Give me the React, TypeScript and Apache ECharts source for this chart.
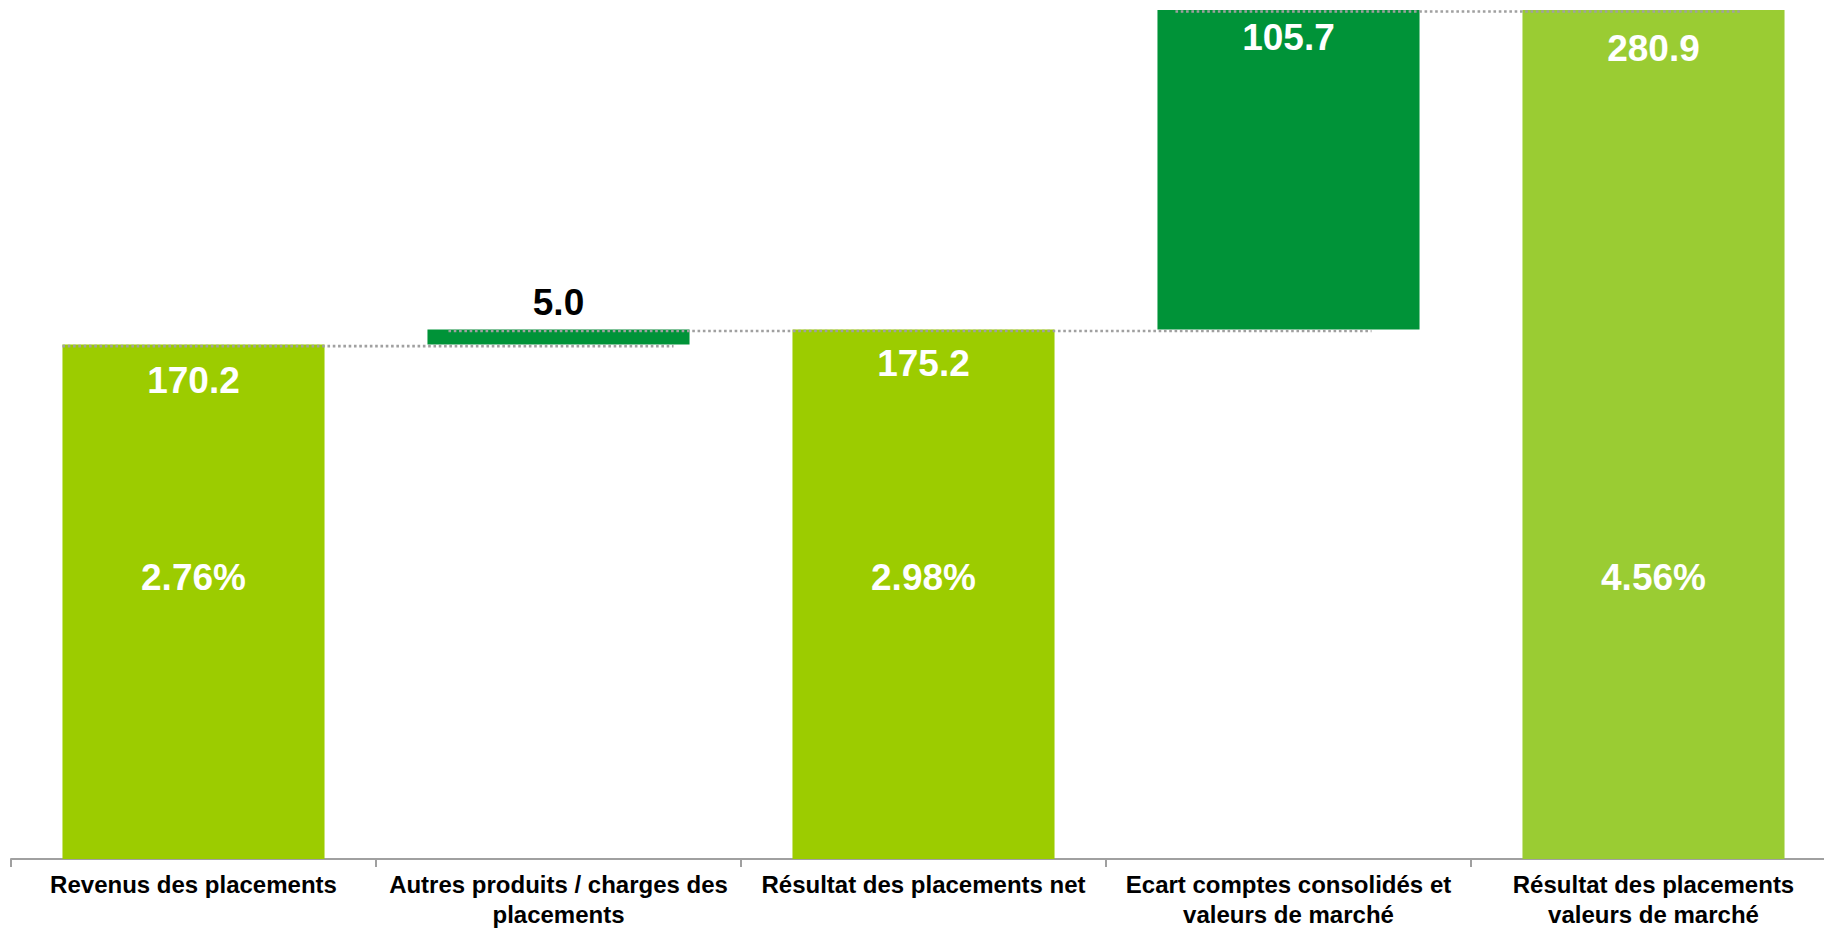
import React, { useEffect, useRef } from "react";
import * as echarts from "echarts";

// ---- Data ----
const CATEGORIES = [
  "Revenus des placements",
  "Autres produits / charges des\nplacements",
  "Résultat des placements net",
  "Ecart comptes consolidés et\nvaleurs de marché",
  "Résultat des placements\nvaleurs de marché",
];
const BASE_VALUES = [0, 170.2, 0, 175.2, 0];
const BAR_VALUES = [170.2, 5.0, 175.2, 105.7, 280.9];
const PERCENT_LABELS = ["2.76%", null, "2.98%", null, "4.56%"];
// connectors: [fromIndex, toIndex, level]
const CONNECTORS = [
  [0, 1, 170.2],
  [1, 3, 175.2],
  [3, 4, 280.9],
];

// ---- Style ----
const LIGHT = "#9ccc00";
const DARK = "#009338";
const LIGHT2 = "#9acc33";
const BAR_COLORS = [LIGHT, DARK, LIGHT, DARK, LIGHT2];
const LABEL_POS = ["insideTop", "top", "insideTop", "insideTop", "insideTop"];
const LABEL_COLOR = ["#ffffff", "#000000", "#ffffff", "#ffffff", "#ffffff"];
const LABEL_DIST = [17, 8, 16, 9, 20];
const CONNECTOR_INSETS = [
  [0, 16],
  [21, 48],
  [18, 44],
];
const PCT_LEVEL = 93;
const BAR_FRACTION = 0.718;
const FONT = "'Liberation Sans', Arial, sans-serif";

export default function App() {
  const ref = useRef<HTMLDivElement>(null);

  useEffect(() => {
    if (!ref.current) return;
    const chart = echarts.init(ref.current, undefined, { renderer: "svg" });

    const pctData: any[] = [];
    PERCENT_LABELS.forEach((p, i) => {
      if (p) pctData.push({ value: [i, PCT_LEVEL], name: p });
    });

    const option: any = {
      animation: false,
      backgroundColor: "#ffffff",
      grid: { left: 11, right: 0, top: 10, bottom: 69, containLabel: false },
      xAxis: {
        type: "category",
        data: CATEGORIES,
        axisLine: { show: true, lineStyle: { color: "#a0a0a0", width: 2 } },
        axisTick: {
          show: true,
          alignWithLabel: false,
          length: 8,
          lineStyle: { color: "#a0a0a0", width: 2 },
        },
        axisLabel: {
          interval: 0,
          color: "#000000",
          fontFamily: FONT,
          fontWeight: "bold",
          fontSize: 24,
          lineHeight: 30,
          margin: 10,
        },
        splitLine: { show: false },
      },
      yAxis: {
        type: "value",
        min: 0,
        max: 280.9,
        show: false,
        splitLine: { show: false },
      },
      series: [
        {
          type: "bar",
          stack: "total",
          barCategoryGap: "28.2%",
          itemStyle: { color: "transparent" },
          emphasis: { disabled: true },
          silent: true,
          data: BASE_VALUES,
        },
        {
          type: "bar",
          stack: "total",
          barCategoryGap: "28.2%",
          silent: true,
          data: BAR_VALUES.map((v, i) => ({
            value: v,
            itemStyle: { color: BAR_COLORS[i] },
            label: {
              show: true,
              position: LABEL_POS[i],
              distance: LABEL_DIST[i],
              color: LABEL_COLOR[i],
              fontFamily: FONT,
              fontWeight: "bold",
              fontSize: 37,
              formatter: () => v.toFixed(1),
            },
          })),
        },
        {
          type: "scatter",
          symbolSize: 1,
          itemStyle: { color: "transparent", opacity: 1 },
          silent: true,
          z: 5,
          data: pctData,
          label: {
            show: true,
            position: "inside",
            color: "#ffffff",
            opacity: 1,
            fontFamily: FONT,
            fontWeight: "bold",
            fontSize: 37,
            formatter: (p: any) => p.name,
          },
        },
        {
          type: "custom",
          silent: true,
          z: 10,
          encode: { x: 0, y: 2 },
          data: CONNECTORS,
          renderItem: (params: any, api: any) => {
            const from = api.value(0);
            const to = api.value(1);
            const lvl = api.value(2);
            const p1 = api.coord([from, lvl]);
            const p2 = api.coord([to, lvl]);
            const bw = api.size([1, 0])[0] * BAR_FRACTION;
            const ins = CONNECTOR_INSETS[params.dataIndex] || [0, 0];
            const y = p1[1] + 1.5;
            return {
              type: "line",
              shape: {
                x1: p1[0] - bw / 2 + ins[0],
                y1: y,
                x2: p2[0] + bw / 2 - ins[1],
                y2: y,
              },
              style: {
                stroke: "#a0a0a0",
                lineWidth: 2.6,
                lineDash: [2.6, 2.7],
              },
            };
          },
        },
      ],
    };

    chart.setOption(option);
    return () => chart.dispose();
  }, []);

  return (
    <div
      style={{
        position: "absolute",
        left: 0,
        top: 0,
        width: 1824,
        height: 929,
        overflow: "hidden",
      }}
    >
      <div ref={ref} style={{ width: 1836, height: 929 }} />
    </div>
  );
}
